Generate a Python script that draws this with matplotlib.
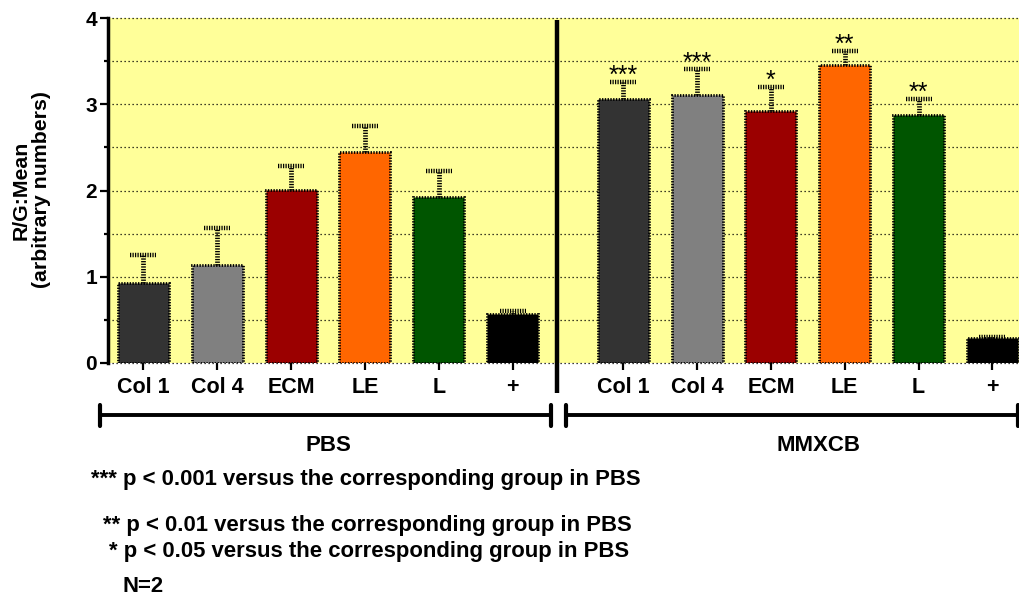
import numpy as np
import matplotlib
matplotlib.use("Agg")
import matplotlib.pyplot as plt

plt.rcParams["font.family"] = ["Liberation Sans", "DejaVu Sans"]
plt.rcParams["font.weight"] = "bold"

# ---- data -------------------------------------------------------------
conditions = ["Col 1", "Col 4", "ECM", "LE", "L", "+"]
groups = ["PBS", "MMXCB"]
pbs_mean = [0.92, 1.13, 2.01, 2.45, 1.93, 0.56]
pbs_err = [0.33, 0.44, 0.28, 0.30, 0.30, 0.04]
mmxcb_mean = [3.06, 3.11, 2.92, 3.46, 2.88, 0.29]
mmxcb_err = [0.20, 0.30, 0.28, 0.16, 0.18, 0.01]
mmxcb_sig = ["***", "***", "*", "**", "**", ""]
bar_colors = ["#333333", "#808080", "#9b0000", "#ff6600", "#005500", "#000000"]
footnotes = [
    "*** p < 0.001 versus the corresponding group in PBS",
    "** p < 0.01 versus the corresponding group in PBS",
    "* p < 0.05 versus the corresponding group in PBS",
    "N=2",
]
y_label = "R/G:Mean\n(arbitrary numbers)"

# ---- layout -----------------------------------------------------------
W, H = 1019, 605
fig = plt.figure(figsize=(W / 100, H / 100), dpi=100)
ax = fig.add_axes([108 / W, 1 - 362.7 / H, 1 - 108 / W, 344.4 / H])
ax.set_facecolor("#ffff99")

pbs_x = np.arange(len(conditions), dtype=float)
mmx_x = pbs_x + 6.5
ax.set_xlim(-0.48, 11.86)
ax.set_ylim(0, 4)

# dotted horizontal grid (also forms top and bottom edge of the plot area)
for lvl in np.arange(0, 4.01, 0.5):
    ax.axhline(lvl, color="black", lw=0.9, ls=(0, (1, 2.2)), zorder=1, clip_on=False)

dot = (0, (0.5, 0.5))
ladder = (0, (0.28, 0.28))
capw = 0.176

for xs, means, errs in [(pbs_x, pbs_mean, pbs_err), (mmx_x, mmxcb_mean, mmxcb_err)]:
    ax.bar(xs, means, width=0.69, color=bar_colors, edgecolor="black",
           linewidth=2.0, linestyle=dot, zorder=2)
    tops = np.array(means) + np.array(errs)
    ax.vlines(xs, means, tops, colors="black", lw=3.4, linestyles=[ladder], zorder=3)
    ax.hlines(tops, xs - capw, xs + capw, colors="black", lw=3.2,
              linestyles=[ladder], zorder=3)

# significance marks above MMXCB bars
mmx_tops = np.array(mmxcb_mean) + np.array(mmxcb_err)
for x, t, s in zip(mmx_x, mmx_tops, mmxcb_sig):
    if s:
        ax.text(x, t - 0.01, s, ha="center", va="baseline", fontsize=18,
                fontweight="normal", zorder=4)

# axes styling
for side in ["top", "right", "bottom"]:
    ax.spines[side].set_visible(False)
ax.spines["left"].set_linewidth(2.5)
ax.spines["left"].set_zorder(5)

ax.set_yticks([0, 1, 2, 3, 4])
ax.set_yticks(np.arange(0.5, 4, 1.0), minor=True)
ax.tick_params(axis="y", which="major", length=6, width=1.6, pad=2, labelsize=15)
ax.tick_params(axis="y", which="minor", length=3, width=1.6)
for lab in ax.get_yticklabels():
    lab.set_fontweight("bold")

ax.set_xticks(np.concatenate([pbs_x, mmx_x]), conditions * 2)
ax.tick_params(axis="x", which="major", length=5, width=1.6, pad=5.5, labelsize=15.5)
for lab in ax.get_xticklabels():
    lab.set_fontweight("bold")

# divider between the two treatment groups
ax.plot([5.6, 5.6], [-0.35, 3.98], color="black", lw=3.2, clip_on=False,
        solid_capstyle="butt", zorder=6)

# group brackets and labels
for (x0, x1), name, xc in zip([(-0.59, 5.52), (5.725, 11.84)], groups, [2.5, 9.14]):
    ax.plot([x0, x1], [-0.604, -0.604], color="black", lw=2.8, clip_on=False,
            solid_capstyle="butt")
    for xe in (x0, x1):
        ax.plot([xe, xe], [-0.49, -0.735], color="black", lw=3.0, clip_on=False,
                solid_capstyle="round")
    ax.text(xc, -0.965, name, ha="center", va="center", fontsize=16,
            fontweight="bold", clip_on=False)

# y-axis title
fig.text(31 / W, 1 - 190 / H, y_label, rotation=90, ha="center", va="center",
         multialignment="center", fontsize=15.3, fontweight="bold", linespacing=1.1)

# footnotes
foot_x = [91, 103, 109, 123]
foot_y = [479, 525, 551, 586]
for txt, fx, fy in zip(footnotes, foot_x, foot_y):
    fig.text(fx / W, 1 - fy / H, txt, ha="left", va="center", fontsize=15.9,
             fontweight="bold")

fig.savefig("out.png", dpi=100, facecolor="white")
